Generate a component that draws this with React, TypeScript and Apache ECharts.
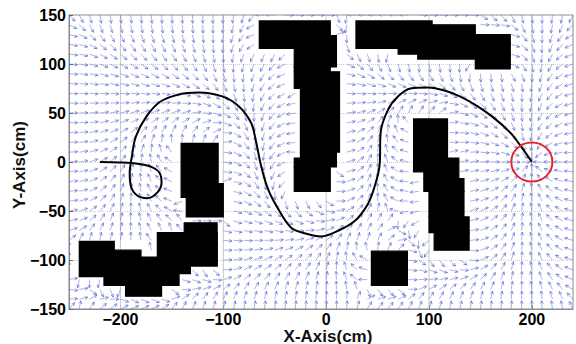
import React, { useEffect, useRef } from "react";
import * as echarts from "echarts";

// Axis ranges and tick labels
const X_RANGE = [-250, 240];
const FIELD_X_RANGE = [-250, 250];
const Y_RANGE = [-150, 150];
const xTickValues = [-200, -100, 0, 100, 200];
const yTickValues = [-150, -100, -50, 0, 50, 100, 150];

// Obstacles as rectangles [x1, x2, y1, y2] (cm)
const obstacleA = [
  [-65, 4, 116, 144],
  [-31, 10, 97, 129],
  [-31, 4, 92, 97],
  [-31, 13, 75, 92],
  [-25, 13, 10, 75],
  [-25, 10, 4, 10],
  [-31, 10, -5, 4],
  [-31, 4, -30, -5],
];
const obstacleB = [
  [29, 103, 116, 144],
  [70, 89, 110, 116],
  [89, 145, 105, 140],
  [145, 179, 95, 130],
];
const obstacleC = [
  [-141, -105, -36, 19],
  [-136, -100, -56, -22],
];
const obstacleD = [
  [-240, -206, -117, -81],
  [-216, -180, -126, -90],
  [-195, -160, -137, -100],
  [-180, -143, -126, -97],
  [-164, -132, -114, -72],
  [-164, -106, -106, -72],
  [-138, -106, -106, -62],
];
const obstacleE = [
  [85, 118, -10, 44],
  [95, 129, -17, 4],
  [95, 134, -30, -17],
  [100, 134, -56, -30],
  [100, 139, -72, -56],
  [105, 139, -90, -72],
];
const obstacleF = [[44, 79, -126, -91]];

// Goal position and goal circle radius (cm)
const goal = [200, 0];
const goalRadius = 20;

// Robot path (cm)
const pathX = [-220, -201, -182, -170, -162, -160, -164, -174, -184, -190, -191, -189, -185, -175, -162, -143, -124, -101, -85, -73, -68, -63, -56, -46, -34, -20, -5, 12, 28, 41, 48, 52, 53, 60, 70, 82, 99, 115, 130, 147, 163, 179, 188, 200];
const pathY = [0, -0.5, -2, -5, -11, -21, -31, -37, -34, -24, -11, 5, 26, 46, 61, 69, 71, 67, 57, 40, 20, -5, -29, -49, -67, -73, -76, -70, -60, -42, -22, -3, 30, 53, 67, 75, 76, 73, 67, 57, 45, 30, 18, 0];

const obstacles = [...obstacleA, ...obstacleB, ...obstacleC, ...obstacleD, ...obstacleE, ...obstacleF];

// Harmonic potential field derived from the obstacles, walls and goal
function computeField() {
  const H = 5;
  const NX = (FIELD_X_RANGE[1] - FIELD_X_RANGE[0]) / H + 1;
  const NY = (Y_RANGE[1] - Y_RANGE[0]) / H + 1;
  const phi = new Float64Array(NX * NY).fill(1);
  const fixed = new Uint8Array(NX * NY);
  const inObs = (x: number, y: number) =>
    obstacles.some((r) => x >= r[0] && x <= r[1] && y >= r[2] && y <= r[3]);
  for (let j = 0; j < NY; j++) {
    for (let i = 0; i < NX; i++) {
      const x = FIELD_X_RANGE[0] + i * H;
      const y = Y_RANGE[0] + j * H;
      const k = j * NX + i;
      if (i === 0 || j === 0 || i === NX - 1 || j === NY - 1 || inObs(x, y)) {
        fixed[k] = 1;
      }
    }
  }
  const gi = Math.round((goal[0] - FIELD_X_RANGE[0]) / H);
  const gj = Math.round((goal[1] - Y_RANGE[0]) / H);
  phi[gj * NX + gi] = 0;
  fixed[gj * NX + gi] = 1;
  const omega = 1.9;
  for (let it = 0; it < 2500; it++) {
    for (let j = 1; j < NY - 1; j++) {
      for (let i = 1; i < NX - 1; i++) {
        const k = j * NX + i;
        if (fixed[k]) continue;
        const nv = 0.25 * (phi[k - 1] + phi[k + 1] + phi[k - NX] + phi[k + NX]);
        phi[k] += omega * (nv - phi[k]);
      }
    }
  }
  const out: number[][] = [];
  for (let j = 0; j < NY; j += 2) {
    for (let i = 0; i < NX; i += 2) {
      const x = FIELD_X_RANGE[0] + i * H;
      const y = Y_RANGE[0] + j * H;
      if (x > X_RANGE[1]) continue;
      if (inObs(x, y)) continue;
      if (i === gi && j === gj) continue;
      const ci = Math.min(Math.max(i, 1), NX - 2);
      const cj = Math.min(Math.max(j, 1), NY - 2);
      const k = cj * NX + ci;
      const gx = phi[k + 1] - phi[k - 1];
      const gy = phi[k + NX] - phi[k - NX];
      const m = Math.hypot(gx, gy);
      if (!(m > 0)) continue;
      out.push([x, y, -gx / m, -gy / m]);
    }
  }
  return out;
}

const fmt = (v: number) => (v < 0 ? "\u2212" + Math.abs(v) : String(v));
const FONT = "Liberation Sans";

export default function App() {
  const ref = useRef<HTMLDivElement>(null);
  useEffect(() => {
    if (!ref.current) return;
    const chart = echarts.init(ref.current, null, { renderer: "svg" });
    const field = computeField();
    const L = 8.5;
    const arrowColor = "#5a64d2";
    chart.setOption({
      animation: false,
      backgroundColor: "#fff",
      grid: {
        left: 69,
        top: 15,
        right: 0,
        bottom: 35,
        show: true,
        borderColor: "#8a8a8a",
        borderWidth: 1,
        backgroundColor: "transparent",
      },
      xAxis: {
        type: "value",
        min: X_RANGE[0],
        max: X_RANGE[1],
        interval: 50,
        axisLine: { show: true, onZero: false, lineStyle: { color: "#8a8a8a" } },
        axisTick: { show: true, inside: true, length: 4, customValues: xTickValues, lineStyle: { color: "#666" } },
        splitLine: { show: false },
        axisLabel: {
          formatter: (v: number) => (xTickValues.includes(v) ? fmt(v) : ""),
          color: "#000",
          fontSize: 16,
          fontWeight: "bold",
          lineHeight: 16,
          fontFamily: FONT,
          margin: 2,
        },
      },
      yAxis: {
        type: "value",
        min: Y_RANGE[0],
        max: Y_RANGE[1],
        interval: 50,
        axisLine: { show: true, onZero: false, lineStyle: { color: "#8a8a8a" } },
        axisTick: { show: true, inside: true, length: 4, lineStyle: { color: "#666" } },
        splitLine: { show: true, lineStyle: { color: "#cfcfcf", type: "dotted", width: 1 } },
        axisLabel: {
          formatter: (v: number) => (yTickValues.includes(v) ? fmt(v) : ""),
          color: "#000",
          fontSize: 16,
          fontWeight: "bold",
          fontFamily: FONT,
          margin: 3,
        },
      },
      graphic: [
        {
          type: "text",
          x: 328,
          y: 336,
          style: { text: "X-Axis(cm)", fontSize: 17, fontWeight: "bold", fontFamily: FONT, fill: "#111", align: "center", verticalAlign: "middle" },
        },
        {
          type: "text",
          x: 19,
          y: 165,
          rotation: Math.PI / 2,
          style: { text: "Y-Axis(cm)", fontSize: 17, fontWeight: "bold", fontFamily: FONT, fill: "#111", align: "center", verticalAlign: "middle" },
        },
      ],
      series: [
        {
          type: "custom",
          name: "gridlines",
          z: 1,
          silent: true,
          data: xTickValues.map((v) => [v]),
          encode: { x: 0 },
          renderItem: (_p: any, api: any) => {
            const a = api.coord([api.value(0), Y_RANGE[0]]);
            const b = api.coord([api.value(0), Y_RANGE[1]]);
            return {
              type: "line",
              shape: { x1: a[0], y1: a[1], x2: b[0], y2: b[1] },
              style: { stroke: "#c8c8c8", lineWidth: 1 },
            };
          },
        },
        {
          type: "custom",
          name: "field",
          z: 2,
          silent: true,
          clip: true,
          data: field,
          encode: { x: 0, y: 1 },
          renderItem: (_p: any, api: any) => {
            const x = api.value(0), y = api.value(1), ux = api.value(2), uy = api.value(3);
            const p0 = api.coord([x, y]);
            const p1 = api.coord([x + ux * L, y + uy * L]);
            const dx = p1[0] - p0[0], dy = p1[1] - p0[1];
            const len = Math.hypot(dx, dy) || 1;
            const ex = dx / len, ey = dy / len;
            const hl = 3, hw = 1.5;
            const b1 = [p1[0] - ex * hl - ey * hw, p1[1] - ey * hl + ex * hw];
            const b2 = [p1[0] - ex * hl + ey * hw, p1[1] - ey * hl - ex * hw];
            return {
              type: "polyline",
              shape: { points: [p0, p1, b1, p1, b2] },
              style: { stroke: arrowColor, lineWidth: 0.75, fill: "none", opacity: 0.68 },
            };
          },
        },
        {
          type: "line",
          name: "path",
          z: 3,
          data: pathX.map((x, i) => [x, pathY[i]]),
          showSymbol: false,
          smooth: 0.35,
          lineStyle: { color: "#000", width: 2 },
          silent: true,
        },
        {
          type: "custom",
          name: "obstacles",
          z: 10,
          silent: true,
          data: obstacles,
          encode: { x: [0, 1], y: [2, 3] },
          renderItem: (_p: any, api: any) => {
            const a = api.coord([api.value(0), api.value(3)]);
            const b = api.coord([api.value(1), api.value(2)]);
            return {
              type: "rect",
              shape: { x: a[0], y: a[1], width: b[0] - a[0], height: b[1] - a[1] },
              style: { fill: "#000", stroke: "#000", lineWidth: 1.2 },
            };
          },
        },
        {
          type: "custom",
          name: "goal",
          z: 11,
          silent: true,
          data: [[goal[0], goal[1], goalRadius]],
          encode: { x: 0, y: 1 },
          renderItem: (_p: any, api: any) => {
            const c = api.coord([api.value(0), api.value(1)]);
            const s = api.size([api.value(2), api.value(2)]);
            return {
              type: "ellipse",
              shape: { cx: c[0], cy: c[1], rx: s[0], ry: s[1] },
              style: { fill: "none", stroke: "#e5232a", lineWidth: 2 },
            };
          },
        },
      ],
    });
    return () => chart.dispose();
  }, []);
  return <div ref={ref} style={{ position: "fixed", left: 0, top: 0, width: 576, height: 344 }} />;
}
